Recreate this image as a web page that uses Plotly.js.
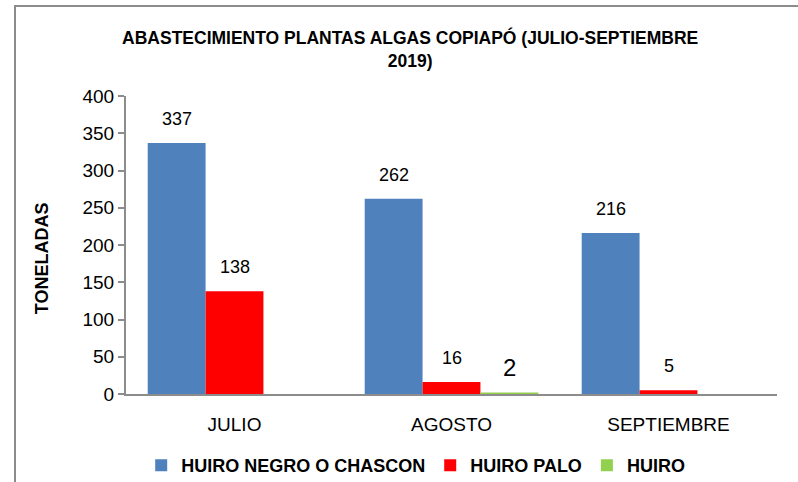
<!DOCTYPE html>
<html><head><meta charset="utf-8">
<script src="https://cdn.plot.ly/plotly-3.0.1.min.js"></script>
<style>
html,body{margin:0;padding:0;background:#fff;}
#wrap{position:relative;width:798px;height:482px;}
#chart{width:798px;height:482px;}
#frame{position:absolute;left:14px;top:5px;width:790px;height:490px;border-left:2px solid #8c8c8c;border-top:2px solid #8c8c8c;pointer-events:none;}
</style></head>
<body>
<div id="wrap"><div id="chart"></div><div id="frame"></div></div>
<script>
const categories = ["JULIO", "AGOSTO", "SEPTIEMBRE"];
const seriesNames = ["HUIRO NEGRO O CHASCON", "HUIRO PALO", "HUIRO"];
const huiroNegro = [337, 262, 216];
const huiroPalo = [138, 16, 5];
const huiro = [null, 2, null];
const yTicks = [0, 50, 100, 150, 200, 250, 300, 350, 400];

const FONT = '"Liberation Sans Narrow", "Liberation Sans", Arial, sans-serif';
const colors = ["#4f81bd", "#ff0000", "#92d050"];
const allSeries = [huiroNegro, huiroPalo, huiro];

const traces = allSeries.map((vals, i) => ({
  type: 'bar', name: seriesNames[i], x: categories, y: vals,
  marker: {color: colors[i]}, hoverinfo: 'skip'
}));

const annotations = [];
const shifts = [-58, 0, 58];
allSeries.forEach((vals, i) => {
  vals.forEach((v, j) => {
    if (v === null) return;
    annotations.push({
      x: categories[j], y: v, xref: 'x', yref: 'y', text: String(v),
      showarrow: false, xshift: shifts[i], yshift: (i === 2 ? 25 : 24),
      font: {family: FONT, size: (i === 2 ? 24 : 18), color: '#000'}
    });
  });
});

annotations.push({
  text: '<b>TONELADAS</b>', textangle: -90, showarrow: false,
  xref: 'paper', yref: 'paper', x: -0.129, y: 0.456, xanchor: 'center', yanchor: 'middle',
  font: {family: FONT, size: 18, color: '#000'}
});

const layout = {
  width: 798, height: 482,
  margin: {l: 126, r: 21, t: 96, b: 88, autoexpand: false},
  paper_bgcolor: '#fff', plot_bgcolor: '#fff',
  barmode: 'group', bargap: 0.2, bargroupgap: 0,
  title: {
    text: '<b>ABASTECIMIENTO PLANTAS ALGAS COPIAPÓ (JULIO-SEPTIEMBRE<br>2019)</b>',
    font: {family: FONT, size: 17.5, color: '#000'},
    x: 0.514, xanchor: 'center', y: 0.909, yanchor: 'top'
  },
  xaxis: {
    showline: true, linecolor: '#8c8c8c', linewidth: 2, ticks: '',
    tickfont: {family: FONT, size: 19, color: '#000'}, ticklabelstandoff: 12,
    showgrid: false, zeroline: false
  },
  yaxis: {
    range: [0, 400], tickvals: yTicks, showline: true, linecolor: '#8c8c8c', linewidth: 2,
    ticks: 'outside', ticklen: 6, tickcolor: '#8c8c8c', tickwidth: 2,
    tickfont: {family: FONT, size: 19, color: '#000'},
    showgrid: false, zeroline: false
  },
  legend: {
    orientation: 'h', x: 0.445, xanchor: 'center', y: -0.24, yanchor: 'middle',
    font: {family: FONT, size: 18, color: '#000', weight: 'bold'},
    itemwidth: 30, traceorder: 'normal'
  },
  annotations: annotations,
  showlegend: true
};

Plotly.newPlot('chart', traces, layout, {displayModeBar: false, staticPlot: true});
</script>
</body></html>
